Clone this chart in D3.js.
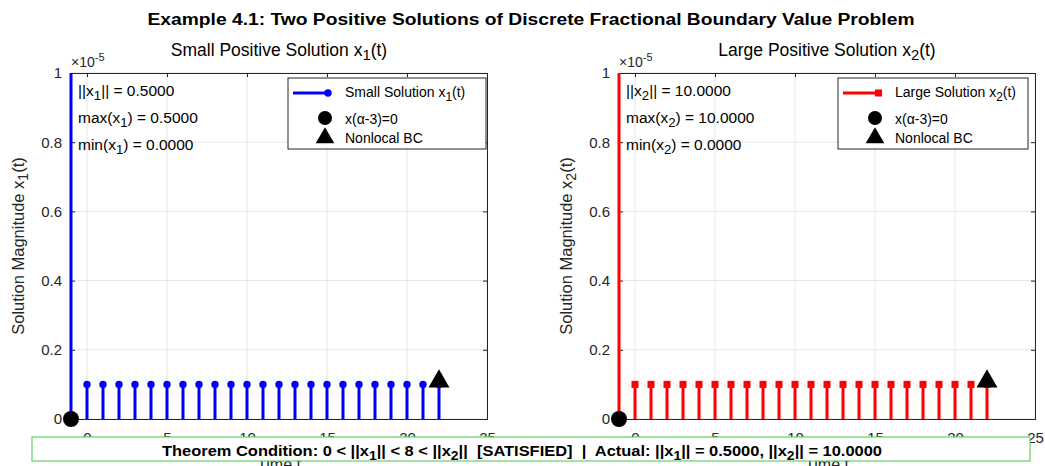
<!DOCTYPE html>
<html>
<head>
<meta charset="utf-8">
<script src="https://cdn.jsdelivr.net/npm/d3@7"></script>
<style>
  body { margin: 0; background: #fff; }
  text { font-family: "Liberation Sans", Arial, Helvetica, sans-serif; }
</style>
</head>
<body>
<div id="chart"></div>
<script>
// time steps, t = alpha-3 ... end
var timeSteps = [-1, 0, 1, 2, 3, 4, 5, 6, 7, 8, 9, 10, 11, 12, 13, 14, 15, 16, 17, 18, 19, 20, 21, 22];
var smallSol = [0.5, 1e-6, 1e-6, 1e-6, 1e-6, 1e-6, 1e-6, 1e-6, 1e-6, 1e-6, 1e-6, 1e-6,
    1e-6, 1e-6, 1e-6, 1e-6, 1e-6, 1e-6, 1e-6, 1e-6, 1e-6, 1e-6, 1e-6, 1e-6];
var largeSol = [10, 1e-6, 1e-6, 1e-6, 1e-6, 1e-6, 1e-6, 1e-6, 1e-6, 1e-6, 1e-6, 1e-6,
    1e-6, 1e-6, 1e-6, 1e-6, 1e-6, 1e-6, 1e-6, 1e-6, 1e-6, 1e-6, 1e-6, 1e-6];
var bcLeft = { t: -1, v: 0 };
var bcRight = { t: 22, v: 1e-6 };
var xTicks = [0, 5, 10, 15, 20, 25];
var yTicks = [0, 0.2e-5, 0.4e-5, 0.6e-5, 0.8e-5, 1e-5];
var yTickLabels = ["0", "0.2", "0.4", "0.6", "0.8", "1"];
var norms = { small: "0.5000", large: "10.0000" };

var W = 1045, H = 466;
var svg = d3.select("#chart").append("svg").attr("width", W).attr("height", H);

// text with _{sub} / ^{sup}
function rich(sel, str, small) {
    var parts = str.split(/([_^]\{[^}]*\})/);
    var shift = 0;
    parts.forEach(function (p) {
        if (!p) return;
        var m = p.match(/^([_^])\{([^}]*)\}$/);
        if (m) {
            var d = m[1] == "_" ? 4 : -6;
            sel.append("tspan").attr("dy", d - shift).style("font-size", small || "85%").text(m[2]);
            shift = d;
        } else {
            sel.append("tspan").attr("dy", -shift).text(p);
            shift = 0;
        }
    });
}

svg.append("text")
    .attr("x", 531).attr("y", 25)
    .attr("text-anchor", "middle")
    .attr("textLength", 767).attr("lengthAdjust", "spacingAndGlyphs")
    .style("font-size", "16px").style("font-weight", "bold").attr("fill", "#000")
    .text("Example 4.1: Two Positive Solutions of Discrete Fractional Boundary Value Problem");

var panels = [
    { left: 71, name: "Small Positive Solution x_{1}(t)", ylab: "Solution Magnitude x_{1}(t)",
      values: smallSol, color: "#0000ff", marker: "circle", id: "1", norm: norms.small,
      legend: "Small Solution x_{1}(t)", legX: 288 },
    { left: 619, name: "Large Positive Solution x_{2}(t)", ylab: "Solution Magnitude x_{2}(t)",
      values: largeSol, color: "#ff0000", marker: "square", id: "2", norm: norms.large,
      legend: "Large Solution x_{2}(t)", legX: 838 }
];
var plotTop = 73, plotBottom = 419, plotW = 416;

panels.forEach(function (p, i) {
    var x = d3.scaleLinear().domain([-1, 25]).range([p.left, p.left + plotW]);
    var y = d3.scaleLinear().domain([0, 1e-5]).range([plotBottom, plotTop]);
    var g = svg.append("g");

    // grid
    g.selectAll(".gx").data(xTicks).enter().append("line")
        .attr("x1", d => x(d)).attr("x2", d => x(d)).attr("y1", plotTop).attr("y2", plotBottom)
        .attr("stroke", "#e6e6e6").attr("stroke-width", 1);
    g.selectAll(".gy").data(yTicks).enter().append("line")
        .attr("x1", p.left).attr("x2", p.left + plotW).attr("y1", d => y(d)).attr("y2", d => y(d))
        .attr("stroke", "#e6e6e6").attr("stroke-width", 1);

    // axes
    var xa = g.append("g").attr("transform", "translate(0," + plotBottom + ")")
        .call(d3.axisBottom(x).tickValues(xTicks).tickSize(-4).tickPadding(13));
    var xt = g.append("g").attr("transform", "translate(0," + plotTop + ")")
        .call(d3.axisTop(x).tickValues(xTicks).tickSize(-4).tickFormat(""));
    var ya = g.append("g").attr("transform", "translate(" + p.left + ",0)")
        .call(d3.axisLeft(y).tickValues(yTicks).tickSize(-4).tickPadding(9)
            .tickFormat((d, k) => yTickLabels[k]));
    var yr = g.append("g").attr("transform", "translate(" + (p.left + plotW) + ",0)")
        .call(d3.axisRight(y).tickValues(yTicks).tickSize(-4).tickFormat(""));
    [xa, xt, ya, yr].forEach(function (a) {
        a.select(".domain").attr("stroke", "#262626");
        a.selectAll(".tick line").attr("stroke", "#262626");
        a.selectAll("text").style("font-size", "15px").attr("fill", "#262626")
            .style("font-family", "'Liberation Sans', Arial, sans-serif");
    });

    var ex = g.append("text").attr("x", p.left).attr("y", 67)
        .style("font-size", "14px").attr("fill", "#262626");
    rich(ex, "\u00d710^{-5}", "11px");

    // stems, clipped to axes
    svg.append("clipPath").attr("id", "clip" + i).append("rect")
        .attr("x", p.left - 2).attr("y", plotTop).attr("width", plotW + 4).attr("height", plotBottom - plotTop);
    var sg = g.append("g").attr("clip-path", "url(#clip" + i + ")");
    var pts = timeSteps.map((t, k) => ({ t: t, v: p.values[k] }));
    sg.selectAll(".stem").data(pts).enter().append("line")
        .attr("x1", d => x(d.t)).attr("x2", d => x(d.t))
        .attr("y1", y(0)).attr("y2", d => y(d.v))
        .attr("stroke", p.color).attr("stroke-width", 3);
    if (p.marker == "circle") {
        sg.selectAll(".mk").data(pts).enter().append("circle")
            .attr("cx", d => x(d.t)).attr("cy", d => y(d.v)).attr("r", 3.7)
            .attr("fill", p.color);
    } else {
        sg.selectAll(".mk").data(pts).enter().append("rect")
            .attr("x", d => x(d.t) - 3.5).attr("y", d => y(d.v) - 3.5)
            .attr("width", 7).attr("height", 7).attr("fill", p.color);
    }

    // boundary condition markers
    g.append("circle").attr("cx", x(bcLeft.t)).attr("cy", y(bcLeft.v)).attr("r", 8).attr("fill", "#000");
    g.append("path").attr("d", d3.symbol(d3.symbolTriangle, 190)())
        .attr("transform", "translate(" + x(bcRight.t) + "," + (y(bcRight.v) - 3) + ")")
        .attr("fill", "#000");

    // norm annotations
    var notes = ["||x_{" + p.id + "}|| = " + p.norm, "max(x_{" + p.id + "}) = " + p.norm,
        "min(x_{" + p.id + "}) = 0.0000"];
    notes.forEach(function (s, k) {
        var t = g.append("text").attr("x", p.left + 7).attr("y", 96 + k * 27)
            .style("font-size", "15.5px").attr("fill", "#000");
        rich(t, s);
    });

    // legend
    var lg = g.append("g").attr("transform", "translate(" + p.legX + ",78)");
    lg.append("rect").attr("width", p.left + plotW - 1 - p.legX - (i ? 6 : 0)).attr("height", 71)
        .attr("fill", "#fff").attr("stroke", "#262626").attr("stroke-width", 1);
    lg.append("line").attr("x1", 5).attr("x2", 41).attr("y1", 15).attr("y2", 15)
        .attr("stroke", p.color).attr("stroke-width", 3);
    if (p.marker == "circle") {
        lg.append("circle").attr("cx", 40).attr("cy", 15).attr("r", 3.7).attr("fill", p.color);
    } else {
        lg.append("rect").attr("x", 37).attr("y", 11.5).attr("width", 7).attr("height", 7).attr("fill", p.color);
    }
    var l1 = lg.append("text").attr("x", 57).attr("y", 19).style("font-size", "14px").attr("fill", "#000");
    rich(l1, p.legend);
    lg.append("circle").attr("cx", 37).attr("cy", 40).attr("r", 7).attr("fill", "#000");
    lg.append("path").attr("d", d3.symbol(d3.symbolTriangle, 150)())
        .attr("transform", "translate(37,60)").attr("fill", "#000");
    lg.append("text").attr("x", 57).attr("y", 46).style("font-size", "14px").attr("fill", "#000")
        .text("x(\u03b1-3)=0");
    lg.append("text").attr("x", 57).attr("y", 65).style("font-size", "14px").attr("fill", "#000")
        .text("Nonlocal BC");

    // titles and labels
    var tt = svg.append("text").attr("x", p.left + plotW / 2).attr("y", 56)
        .attr("text-anchor", "middle").style("font-size", "17.5px").attr("fill", "#000");
    rich(tt, p.name);
    var yl = svg.append("text").attr("transform", "translate(" + (p.left - 47) + "," + ((plotTop + plotBottom) / 2) + ") rotate(-90)")
        .attr("text-anchor", "middle").style("font-size", "16.5px").attr("fill", "#262626");
    rich(yl, p.ylab);
    svg.append("text").attr("x", p.left + plotW / 2).attr("y", 470)
        .attr("text-anchor", "middle").style("font-size", "16px").attr("fill", "#262626")
        .text("Time t");
});

// theorem banner
svg.append("rect").attr("x", 32).attr("y", 437).attr("width", 998).attr("height", 24)
    .attr("fill", "#fff").attr("stroke", "#5fd35f").attr("stroke-width", 1.2);
var bn = svg.append("text").attr("x", 522).attr("y", 456).attr("text-anchor", "middle")
    .attr("textLength", 720).attr("lengthAdjust", "spacingAndGlyphs")
    .style("font-size", "15px").style("font-weight", "bold").attr("fill", "#000")
    .attr("xml:space", "preserve");
rich(bn, "Theorem Condition: 0 < ||x_{1}|| < 8 < ||x_{2}||  [SATISFIED]  |  Actual: ||x_{1}|| = " +
    norms.small + ", ||x_{2}|| = " + norms.large);
</script>
</body>
</html>
